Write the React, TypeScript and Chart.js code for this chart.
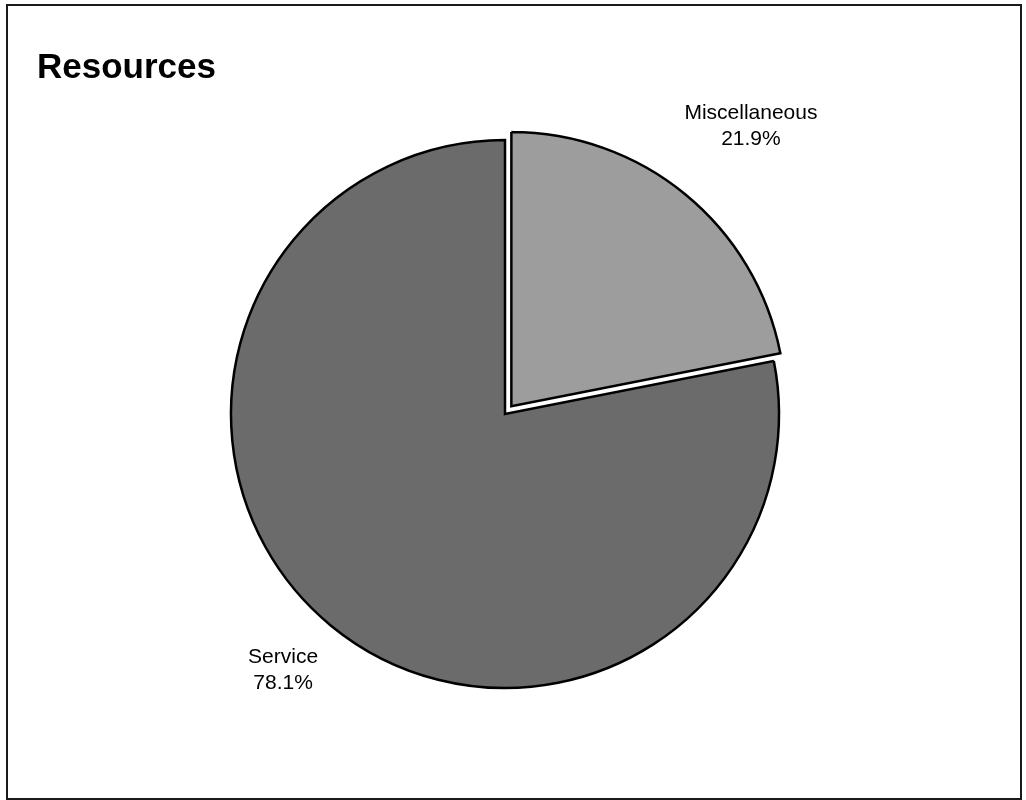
import React, { useEffect, useRef } from "react";
import { Chart, registerables } from "chart.js";

Chart.register(...registerables);

const titleText = "Resources";
const categories = ["Miscellaneous", "Service"];
const shares = [21.9, 78.1];
const sliceColors = ["#9d9d9d", "#6b6b6b"];
// Chart.js draws arc offsets at 1/4 of this value
const explode = [40, 0];

const FONT = "'Liberation Sans', Arial, sans-serif";

const framePlugin = {
  id: "frameAndText",
  beforeDraw(chart: any) {
    const ctx = chart.ctx;
    ctx.save();
    ctx.fillStyle = "#ffffff";
    ctx.fillRect(0, 0, chart.width, chart.height);
    ctx.strokeStyle = "#1a1a1a";
    ctx.lineWidth = 2;
    ctx.strokeRect(7, 5, 1014, 794);
    ctx.fillStyle = "#000000";
    ctx.font = `bold 35px ${FONT}`;
    ctx.textAlign = "left";
    ctx.textBaseline = "alphabetic";
    ctx.fillText(titleText, 37, 78);
    ctx.restore();
  },
  afterDatasetsDraw(chart: any) {
    const ctx = chart.ctx;
    const meta = chart.getDatasetMeta(0);
    const dist = [107, 66];
    const nudge = [
      [4, 5],
      [-6, -8],
    ];
    ctx.save();
    ctx.fillStyle = "#000000";
    ctx.font = `21px ${FONT}`;
    ctx.textAlign = "center";
    ctx.textBaseline = "alphabetic";
    meta.data.forEach((arc: any, i: number) => {
      const mid = (arc.startAngle + arc.endAngle) / 2;
      const d = arc.outerRadius + dist[i];
      const cx = arc.x + Math.cos(mid) * d + nudge[i][0];
      const cy = arc.y + Math.sin(mid) * d + nudge[i][1];
      ctx.fillText(categories[i], cx, cy - 6);
      ctx.fillText(shares[i].toFixed(1) + "%", cx, cy + 20);
    });
    ctx.restore();
  },
};

export default function App() {
  const ref = useRef<HTMLCanvasElement | null>(null);
  useEffect(() => {
    if (!ref.current) return;
    const chart = new Chart(ref.current, {
      type: "pie",
      data: {
        labels: categories,
        datasets: [
          {
            data: shares,
            backgroundColor: sliceColors,
            borderColor: "#000000",
            borderWidth: 2.5,
            borderJoinStyle: "miter",
            offset: explode,
            radius: 274,
          } as any,
        ],
      },
      options: {
        responsive: false,
        animation: false,
        layout: { padding: { left: 0, right: 16, top: 28, bottom: 0 } },
        plugins: {
          legend: { display: false },
          title: { display: false },
          tooltip: { enabled: false },
        },
      },
      plugins: [framePlugin],
    });
    return () => chart.destroy();
  }, []);
  return (
    <div style={{ position: "absolute", left: 0, top: 0, width: 1026, height: 800 }}>
      <canvas ref={ref} width={1026} height={800} style={{ display: "block" }} />
    </div>
  );
}
